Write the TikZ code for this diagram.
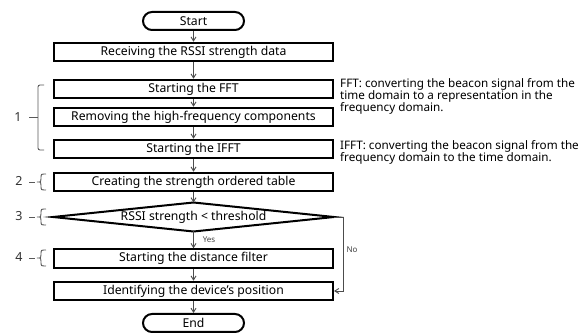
\documentclass[tikz,border=0pt]{standalone}
\usepackage{fontspec}
\setmainfont{Noto Sans}
\usetikzlibrary{arrows.meta}
\newcommand{\mybrc}[3]{%
  \draw[brk] (46,#1) .. controls (41,#1) .. (41,#1+4) -- (41,#3-3) .. controls (41,#3) .. (37,#3)
    .. controls (41,#3) .. (41,#3+3) -- (41,#2-4) .. controls (41,#2) .. (46,#2);}
\begin{document}
\begin{tikzpicture}[x=1pt,y=-1pt,
  box/.style={draw=black, line width=2pt, minimum width=279pt, minimum height=18.5pt, inner sep=0pt, font=\fontsize{12.2}{14}\selectfont},
  term/.style={draw=black, line width=2pt, minimum width=101pt, minimum height=18pt, rounded corners=9pt, inner sep=0pt, font=\fontsize{12.2}{14}\selectfont},
  flow/.style={draw=black!70, line width=0.9pt, -{Straight Barb[length=4pt,width=5pt]}},
  brk/.style={draw=black!65, line width=0.9pt},
  lbl/.style={inner sep=0pt, text=black!80, font=\fontsize{12.5}{14}\selectfont},
  small/.style={inner sep=0pt, text=black!75, font=\fontsize{8}{9}\selectfont},
  note/.style={align=left, anchor=north west, inner sep=0pt, font=\fontsize{11.7}{12}\selectfont}
]
\useasboundingbox (0,0) rectangle (586,336);
\fill[white] (0,0) rectangle (586,336);

\node[term] (start) at (193.5,21) {Start};
\node[box] (recv) at (193.5,52) {Receiving the RSSI strength data};
\node[box] (fft) at (193.5,89) {Starting the FFT};
\node[box] (rem) at (193.5,117) {Removing the high-frequency components};
\node[box] (ifft) at (193.5,149) {Starting the IFFT};
\node[box] (crt) at (193.5,182) {Creating the strength ordered table};
\draw[line width=2pt, line join=miter] (53,217) -- (193.5,202.5) -- (334,217) -- (193.5,231.5) -- cycle;
\coordinate (diaT) at (193.5,202.5);
\coordinate (diaB) at (193.5,231.5);
\coordinate (diaR) at (334,217);
\node[lbl, text=black, font=\fontsize{12.2}{14}\selectfont] (dia) at (193.5,217) {RSSI strength < threshold};
\node[box] (dist) at (193.5,258.5) {Starting the distance filter};
\node[box] (ident) at (193.5,291) {Identifying the device’s position};
\node[term] (end) at (193.5,323) {End};

\draw[flow] (start) -- (recv);
\draw[flow] (recv) -- (fft);
\draw[flow] (fft) -- (rem);
\draw[flow] (rem) -- (ifft);
\draw[flow] (ifft) -- (crt);
\draw[flow] (crt) -- (diaT);
\draw[flow] (diaB) -- (dist);
\draw[flow] (dist) -- (ident);
\draw[flow] (ident) -- (end);
\draw[flow] (diaR) -- ++(9,0) |- (ident.east);

\node[small] (yes) at (209,240) {Yes};
\node[small] (no) at (352,250) {No};

% brace 1
\draw[brk, rounded corners=2pt] (44,85) -- (38,85) -- (38,150) -- (44,150);
\draw[brk] (29,117) -- (38,117);
\node[lbl] (l1) at (18,117) {1};
% braces 2-4
\mybrc{174}{190}{182}
\draw[brk] (29,182) -- (35,182);
\node[lbl] (l2) at (19,181) {2};
\mybrc{209}{225}{217}
\draw[brk] (29,217) -- (35,217);
\node[lbl] (l3) at (19,216) {3};
\mybrc{250}{266}{258}
\draw[brk] (29,258) -- (35,258);
\node[lbl] (l4) at (19,257) {4};

\node[note] (nfft) at (340,78) {FFT: converting the beacon signal from the\\time domain to a representation in the\\frequency domain.};
\node[note] (nifft) at (340,140) {IFFT: converting the beacon signal from the\\frequency domain to the time domain.};
\end{tikzpicture}
\end{document}
